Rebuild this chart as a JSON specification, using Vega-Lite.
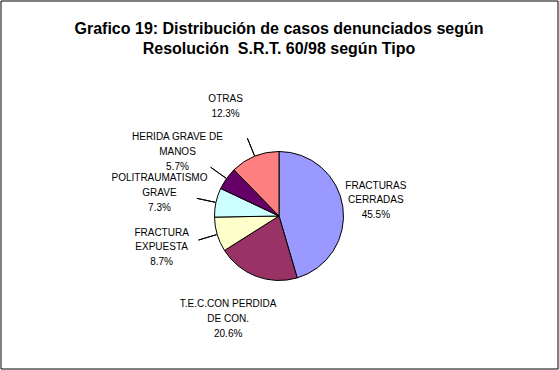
{
  "$schema": "https://vega.github.io/schema/vega-lite/v6.json",
  "width": 559,
  "height": 370,
  "autosize": {"type": "fit", "contains": "padding"},
  "padding": {"left": 0.5, "top": 0.5, "right": 1.5, "bottom": 1.5},
  "background": "white",
  "view": {"stroke": "black", "strokeWidth": 1, "fill": "white"},
  "config": {
    "view": {"stroke": "black", "strokeWidth": 1, "fill": "white"},
    "style": {"cell": {"stroke": "black", "strokeWidth": 1}}
  },
  "title": {
    "text": ["Grafico 19: Distribución de casos denunciados según", "Resolución\u00a0 S.R.T. 60/98 según Tipo"],
    "font": "Liberation Sans",
    "fontSize": 16,
    "fontWeight": "bold",
    "lineHeight": 20,
    "color": "black",
    "anchor": "middle",
    "offset": -56
  },
  "data": {
    "values": [
      {"tipo": "FRACTURAS\nCERRADAS", "pct": 45.5, "orden": 1},
      {"tipo": "T.E.C.CON PERDIDA\nDE CON.", "pct": 20.6, "orden": 2},
      {"tipo": "FRACTURA\nEXPUESTA", "pct": 8.7, "orden": 3},
      {"tipo": "POLITRAUMATISMO\nGRAVE", "pct": 7.3, "orden": 4},
      {"tipo": "HERIDA GRAVE DE\nMANOS", "pct": 5.7, "orden": 5},
      {"tipo": "OTRAS", "pct": 12.3, "orden": 6}
    ]
  },
  "transform": [
    {"calculate": "datum.tipo + '\\n' + format(datum.pct, '.1f') + '%'", "as": "etiqueta"}
  ],
  "layer": [
    {
      "mark": {"type": "arc", "outerRadius": 64.5, "stroke": "black", "strokeWidth": 1, "yOffset": 31.5},
      "encoding": {
        "theta": {"field": "pct", "type": "quantitative", "stack": true},
        "order": {"field": "orden", "type": "quantitative"},
        "color": {
          "field": "tipo",
          "type": "nominal",
          "sort": null,
          "scale": {
            "domain": ["FRACTURAS\nCERRADAS", "T.E.C.CON PERDIDA\nDE CON.", "FRACTURA\nEXPUESTA", "POLITRAUMATISMO\nGRAVE", "HERIDA GRAVE DE\nMANOS", "OTRAS"],
            "range": ["#9999FF", "#993366", "#FFFFCC", "#CCFFFF", "#660066", "#FF8080"]
          },
          "legend": null
        }
      }
    },
    {
      "transform": [
        {"joinaggregate": [{"op": "sum", "field": "pct", "as": "total"}]},
        {"window": [{"op": "sum", "field": "pct", "as": "acum"}], "sort": [{"field": "orden"}], "frame": [null, 0]},
        {"calculate": "2 * PI * (datum.acum - datum.pct / 2) / datum.total", "as": "medio"},
        {"filter": "datum.orden >= 3"}
      ],
      "mark": {"type": "arc", "radius": 84, "radius2": 65, "fill": null, "stroke": "black", "strokeWidth": 1, "yOffset": 31.5},
      "encoding": {
        "theta": {"field": "medio", "type": "quantitative", "scale": null, "stack": null},
        "theta2": {"field": "medio"}
      }
    },
    {
      "mark": {
        "type": "text",
        "radius": 110,
        "yOffset": 16.8,
        "xOffset": -12,
        "align": "center",
        "baseline": "middle",
        "lineBreak": "\n",
        "lineHeight": 14.7,
        "font": "Liberation Sans",
        "fontSize": 10,
        "color": "black"
      },
      "encoding": {
        "theta": {"field": "pct", "type": "quantitative", "stack": true},
        "order": {"field": "orden", "type": "quantitative"},
        "text": {"field": "etiqueta", "type": "nominal"}
      }
    }
  ]
}
